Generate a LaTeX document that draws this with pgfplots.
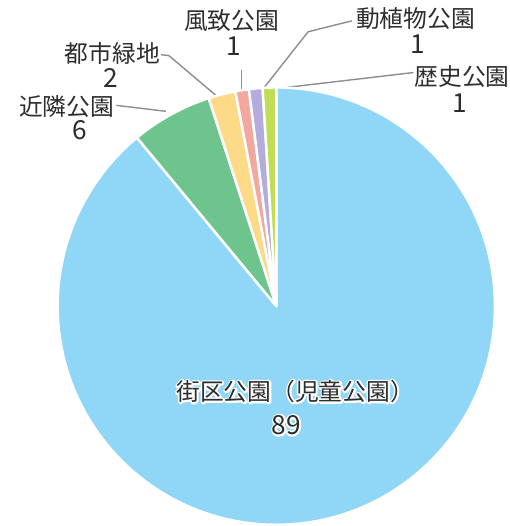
\documentclass[border=0pt]{standalone}
\usepackage{pgfplots}
\pgfplotsset{compat=1.18}
\usepackage{pgfplotstable}
\usepackage{fontspec}
\setmainfont{Noto Sans CJK JP}
\definecolor{pc0}{RGB}{143,214,247}
\definecolor{pc1}{RGB}{110,196,141}
\definecolor{pc2}{RGB}{252,218,135}
\definecolor{pc3}{RGB}{242,168,158}
\definecolor{pc4}{RGB}{181,172,222}
\definecolor{pc5}{RGB}{193,221,85}
\definecolor{txt}{RGB}{45,45,45}
\definecolor{ln}{RGB}{140,140,140}
\tikzset{lbl/.style={inner sep=0pt, anchor=base, text=txt, font=\fontsize{24}{28}\selectfont},
  num/.style={inner sep=0pt, anchor=base, text=txt, font=\fontsize{26.5}{30}\selectfont}}
\newcommand\halo[1]{\rlap{\special{pdf:literal direct 1 Tr 3.6 w 1 j 1 1 1 RG}#1\special{pdf:literal direct 0 Tr}}#1}
\pgfplotstableread{
id value
kaiku 89
kinrin 6
toshi 2
fuchi 1
dosyoku 1
rekishi 1
}\piedata
\begin{document}
\begin{tikzpicture}
\def\cum{90}
\pgfplotsinvokeforeach{0,...,5}{%
  \pgfplotstablegetelem{#1}{value}\of\piedata
  \pgfmathsetmacro\endang{\cum-3.6*\pgfplotsretval}%
  \expandafter\xdef\csname sa#1\endcsname{\cum}%
  \expandafter\xdef\csname ea#1\endcsname{\endang}%
  \xdef\cum{\endang}%
}
\begin{axis}[hide axis, x=1bp, y=1bp, xmin=0, xmax=513, ymin=0, ymax=526, clip=false]
\path (axis cs:0,0) rectangle (axis cs:513,526);
% leader lines
\draw[ln, line width=1.4bp] (axis cs:117,420) -- (axis cs:167,414);
\draw[ln, line width=1.4bp] (axis cs:162,471) -- (axis cs:170,470) -- (axis cs:222,426);
\draw[ln, line width=1.4bp] (axis cs:243,456) -- (axis cs:243,436);
\draw[ln, line width=1.4bp] (axis cs:258,428) -- (axis cs:310,494) -- (axis cs:354,505);
\draw[ln, line width=1.4bp] (axis cs:271,436) -- (axis cs:416,453);
% wedges
\pgfplotsinvokeforeach{0,...,5}{%
  \edef\temp{\noexpand\fill[pc#1, draw=white, line width=2.5bp, line join=round]
    (axis cs:278,218) -- ++(\csname sa#1\endcsname:220bp)
    arc[start angle=\csname sa#1\endcsname, end angle=\csname ea#1\endcsname, radius=220bp] -- cycle;}%
  \temp
}
% labels
\node[lbl] at (axis cs:67,409.4) {近隣公園};
\node[num] at (axis cs:80,385.3) {6};
\node[lbl] at (axis cs:113,462.9) {都市緑地};
\node[num] at (axis cs:111,438.3) {2};
\node[lbl] at (axis cs:233,495.9) {風致公園};
\node[num] at (axis cs:235,470.3) {1};
\node[lbl] at (axis cs:418,497.9) {動植物公園};
\node[num] at (axis cs:420,472.3) {1};
\node[lbl] at (axis cs:465,439.9) {歴史公園};
\node[num] at (axis cs:463,413.3) {1};
\node[lbl] at (axis cs:297,122.9) {\halo{街区公園（児童公園）}};
\node[num] at (axis cs:288,88.8) {\halo{89}};
\end{axis}
\end{tikzpicture}
\end{document}
